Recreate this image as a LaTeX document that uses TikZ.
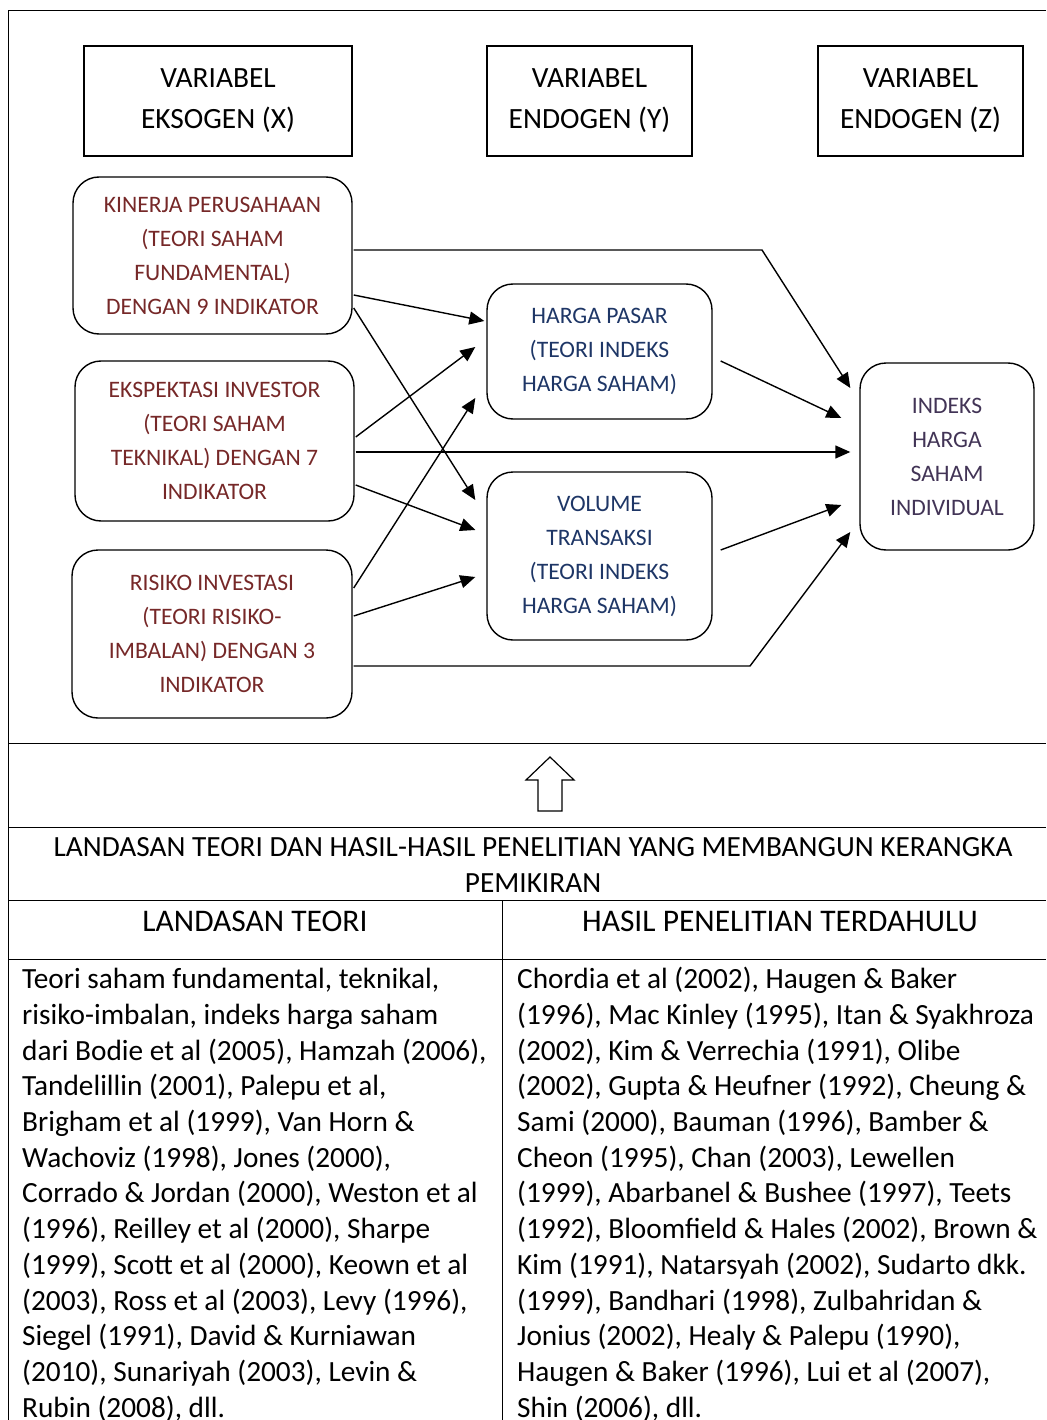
\documentclass[tikz,border=0pt]{standalone}
\usepackage{fontspec}
\setmainfont{Carlito}
\usetikzlibrary{arrows.meta}

\definecolor{xred}{RGB}{118,40,40}
\definecolor{yblue}{RGB}{30,54,102}
\definecolor{zpurple}{RGB}{66,52,86}

\begin{document}
\begin{tikzpicture}[
    x=1pt, y=-1pt,
    varbox/.style={rectangle, draw, line width=1.4pt, minimum width=#1, minimum height=110pt, inner sep=0pt, align=center, font=\fontsize{29.4}{41}\selectfont},
    xbox/.style={rectangle, rounded corners=26pt, draw, line width=1.4pt, minimum width=279pt, inner sep=0pt, align=center, text=xred, font=\fontsize{23.6}{34}\selectfont},
    ybox/.style={xbox, minimum width=225pt, text=yblue},
    zbox/.style={xbox, minimum width=174pt, minimum height=187pt, text=zpurple},
    arrow/.style={-{Triangle[length=15pt,width=13pt]}, line width=1.4pt},
    frame/.style={line width=1pt},
    bodytext/.style={anchor=north west, inner sep=0pt, align=left, font=\fontsize{29.3}{35.7}\selectfont}
]
\useasboundingbox (0,0) rectangle (1046,1420);
\clip (0,0) rectangle (1046,1420);

% Frame
\draw[frame] (1046,11) -- (8,11) -- (8,1420);
\draw[frame] (8,743) -- (1046,743);
\draw[frame] (8,827) -- (1046,827);
\draw[frame] (8,900) -- (1046,900);
\draw[frame] (8,959) -- (1046,959);
\draw[frame] (502,900) -- (502,1420);

% Variable headers
\node (vx) [varbox=268pt] at (218,101) {VARIABEL\\EKSOGEN (X)};
\node (vy) [varbox=205pt] at (589.5,101) {VARIABEL\\ENDOGEN (Y)};
\node (vz) [varbox=205pt] at (920.5,101) {VARIABEL\\ENDOGEN (Z)};

% Exogenous
\node (kinerja) [xbox, minimum height=157pt] at (212.5,255.5) {KINERJA PERUSAHAAN\\(TEORI SAHAM\\FUNDAMENTAL)\\DENGAN 9 INDIKATOR};
\node (ekspek) [xbox, minimum height=160pt] at (214.5,441) {EKSPEKTASI INVESTOR\\(TEORI SAHAM\\TEKNIKAL) DENGAN 7\\INDIKATOR};
\node (risiko) [xbox, minimum height=168pt, minimum width=280pt] at (212,634) {RISIKO INVESTASI\\(TEORI RISIKO-\\IMBALAN) DENGAN 3\\INDIKATOR};

% Endogenous
\node (harga) [ybox, minimum height=135pt] at (599.5,351.5) {HARGA PASAR\\(TEORI INDEKS\\HARGA SAHAM)};
\node (volume) [ybox, minimum height=168pt] at (599.5,556) {VOLUME\\TRANSAKSI\\(TEORI INDEKS\\HARGA SAHAM)};
\node (indeks) [zbox] at (947,456.5) {INDEKS\\HARGA\\SAHAM\\INDIVIDUAL};

% Bends
\coordinate (kbend) at (762,250);
\coordinate (rbend) at (750,666);

% Arrows
\draw[arrow] ([xshift=1pt,yshift=-39.5pt]kinerja.east) -- ([xshift=-2pt,yshift=30.5pt]harga.west);
\draw[arrow] ([xshift=1pt,yshift=-52.5pt]kinerja.east) -- ([xshift=-11pt,yshift=56pt]volume.west);
\draw[arrow] ([xshift=1pt,yshift=5.5pt]kinerja.east) -- (kbend) -- ([xshift=-9pt,yshift=68.5pt]indeks.west);
\draw[arrow] ([xshift=1pt,yshift=4pt]ekspek.east) -- ([xshift=-11pt,yshift=4.5pt]harga.west);
\draw[arrow] ([xshift=1pt,yshift=-11pt]ekspek.east) -- ([xshift=-9pt,yshift=4.5pt]indeks.west);
\draw[arrow] ([xshift=1pt,yshift=-44pt]ekspek.east) -- ([xshift=-11pt,yshift=26pt]volume.west);
\draw[arrow] ([xshift=1pt,yshift=46pt]risiko.east) -- ([xshift=-11pt,yshift=-46.5pt]harga.west);
\draw[arrow] ([xshift=1pt,yshift=18pt]risiko.east) -- ([xshift=-11pt,yshift=-21pt]volume.west);
\draw[arrow] ([xshift=1pt,yshift=-32pt]risiko.east) -- (rbend) -- ([xshift=-9pt,yshift=-75.5pt]indeks.west);
\draw[arrow] ([xshift=8pt,yshift=-9.5pt]harga.east) -- ([xshift=-18pt,yshift=38.5pt]indeks.west);
\draw[arrow] ([xshift=8pt,yshift=6pt]volume.east) -- ([xshift=-18pt,yshift=-48.5pt]indeks.west);

% Hollow up arrow
\draw[line width=1.2pt, line join=miter] (550,757) -- (574,780) -- (562,780) -- (562,811) -- (538,811) -- (538,780) -- (526,780) -- cycle;

% Table texts
\node (judul) [align=center, inner sep=0pt, font=\fontsize{29.3}{35.5}\selectfont] at (533,865) {LANDASAN TEORI DAN HASIL-HASIL PENELITIAN YANG MEMBANGUN KERANGKA\\PEMIKIRAN};
\node (teori) [inner sep=0pt, font=\fontsize{31.5}{36}\selectfont] at (255,921) {LANDASAN TEORI};
\node (hasil) [inner sep=0pt, font=\fontsize{31.5}{36}\selectfont] at (780,921) {HASIL PENELITIAN TERDAHULU};

\node (teorilist) [bodytext] at (22,963.5) {\strut Teori saham fundamental, teknikal,\\
risiko-imbalan, indeks harga saham\\
dari Bodie et al (2005), Hamzah (2006),\\
Tandelillin (2001), Palepu et al,\\
Brigham et al (1999), Van Horn \&\\
Wachoviz (1998), Jones (2000),\\
Corrado \& Jordan (2000), Weston et al\\
(1996), Reilley et al (2000), Sharpe\\
(1999), Scott et al (2000), Keown et al\\
(2003), Ross et al (2003), Levy (1996),\\
Siegel (1991), David \& Kurniawan\\
(2010), Sunariyah (2003), Levin \&\\
Rubin (2008), dll.};

\node (hasillist) [bodytext] at (517,963.5) {\strut Chordia et al (2002), Haugen \& Baker\\
(1996), Mac Kinley (1995), Itan \& Syakhroza\\
(2002), Kim \& Verrechia (1991), Olibe\\
(2002), Gupta \& Heufner (1992), Cheung \&\\
Sami (2000), Bauman (1996), Bamber \&\\
Cheon (1995), Chan (2003), Lewellen\\
(1999), Abarbanel \& Bushee (1997), Teets\\
(1992), Bloomfield \& Hales (2002), Brown \&\\
Kim (1991), Natarsyah (2002), Sudarto dkk.\\
(1999), Bandhari (1998), Zulbahridan \&\\
Jonius (2002), Healy \& Palepu (1990),\\
Haugen \& Baker (1996), Lui et al (2007),\\
Shin (2006), dll.};

\end{tikzpicture}
\end{document}
